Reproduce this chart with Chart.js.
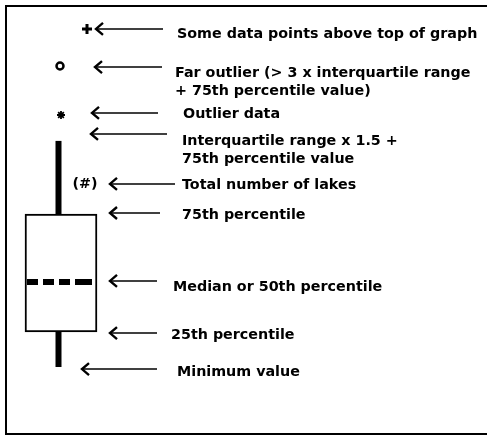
<!DOCTYPE html>
<html>
<head>
<meta charset="utf-8">
<script src="https://cdn.jsdelivr.net/npm/chart.js@4.4.0/dist/chart.umd.min.js"></script>
<style>
  body { margin: 0; background: #fff; overflow: hidden; }
  #frame { position: absolute; left: 5px; top: 5px; width: 520px; height: 426px;
           border: 2px solid #000; border-right: none; }
  #box { position: absolute; left: 0; top: 0; width: 487px; height: 437px; }
</style>
</head>
<body>
<div id="frame"></div>
<div id="box"><canvas id="plot" width="487" height="437"></canvas></div>
<script>
// box plot statistics (value axis)
var minValue = 10;
var q1Value = 20;
var medianValue = 34.3;
var q3Value = 53.7;
var whiskerTop = 74.6;

// single points above the whisker
var outlierValue = 82;
var farOutlierValue = 96;
var aboveTopValue = 106.6;
var countValue = 62.3;

// explanation labels, where their arrows point and where the text sits
var labels = [
    ['Some data points above top of graph'],
    ['Far outlier (> 3 x interquartile range', '+ 75th percentile value)'],
    ['Outlier data'],
    ['Interquartile range x 1.5 +', '75th percentile value'],
    ['Total number of lakes'],
    ['75th percentile'],
    ['Median or 50th percentile'],
    ['25th percentile'],
    ['Minimum value']
];
var arrowValues = [106.6, 95.7, 82.6, 76.6, 62.3, 54, 34.6, 19.7, 9.4];
var labelValues = [105.2, 94, 82.3, 74.6, 62, 53.4, 32.9, 19.1, 8.6];

// horizontal layout (x scale runs 0..487)
var boxX = 61, boxWidth = 72, whiskerX = 58.5;
var arrowTips = [96, 95, 92, 91, 110, 110, 110, 110, 82];
var arrowEnds = [163, 162, 158, 167, 175, 160, 157, 157, 157];
var textX = [177, 175, 183, 182, 182, 182, 173, 171, 177];

var FONT = 'bold 14.3px "DejaVu Sans", sans-serif';

var datasets = [];

datasets.push({
    type: 'bar',
    data: [{x: boxX, y: [q1Value, q3Value]}],
    backgroundColor: '#fff',
    borderColor: '#000',
    borderWidth: 2,
    borderSkipped: false,
    barThickness: boxWidth,
    order: 5
});

datasets.push({
    type: 'line',
    data: [{x: whiskerX, y: q3Value}, {x: whiskerX, y: whiskerTop}],
    borderColor: '#000', borderWidth: 6, borderCapStyle: 'butt',
    pointRadius: 0, order: 4
});
datasets.push({
    type: 'line',
    data: [{x: whiskerX, y: minValue}, {x: whiskerX, y: q1Value}],
    borderColor: '#000', borderWidth: 6, borderCapStyle: 'butt',
    pointRadius: 0, order: 4
});
datasets.push({
    type: 'line',
    data: [{x: boxX - 34, y: medianValue}, {x: boxX + 31, y: medianValue}],
    borderColor: '#000', borderWidth: 6, borderCapStyle: 'butt',
    borderDash: [11, 5, 11, 5, 11, 5, 17, 5], pointRadius: 0, order: 1
});

// markers
datasets.push({
    type: 'scatter',
    data: [{x: 87, y: aboveTopValue}],
    pointStyle: 'cross', pointRadius: 5, borderWidth: 3,
    borderColor: '#000', order: 1
});
datasets.push({
    type: 'scatter',
    data: [{x: 60, y: farOutlierValue}],
    pointStyle: 'circle', pointRadius: 3.5, borderWidth: 2.5,
    borderColor: '#000', backgroundColor: '#fff', order: 1
});
datasets.push({
    type: 'scatter',
    data: [{x: 61, y: outlierValue}],
    pointStyle: 'star', pointRadius: 4, borderWidth: 1.8,
    borderColor: '#000', order: 1
});

// arrows
labels.forEach(function(l, i) {
    datasets.push({
        type: 'line',
        arrow: true,
        data: [{x: arrowTips[i], y: arrowValues[i]}, {x: arrowEnds[i], y: arrowValues[i]}],
        borderColor: '#000', borderWidth: 1.5, pointRadius: 0, order: 1
    });
});

var annotate = {
    id: 'annotate',
    afterDatasetsDraw: function(chart) {
        var ctx = chart.ctx;
        var xs = chart.scales.x, ys = chart.scales.y;
        ctx.save();
        // arrow heads
        chart.data.datasets.forEach(function(ds, i) {
            if (!ds.arrow) return;
            var p = chart.getDatasetMeta(i).data[0];
            ctx.strokeStyle = '#000';
            ctx.lineWidth = 2.4;
            ctx.beginPath();
            ctx.moveTo(p.x + 7, p.y - 6);
            ctx.lineTo(p.x, p.y);
            ctx.lineTo(p.x + 7, p.y + 6);
            ctx.stroke();
        });
        // text
        ctx.fillStyle = '#000';
        ctx.font = FONT;
        ctx.textAlign = 'left';
        ctx.textBaseline = 'middle';
        labels.forEach(function(lines, i) {
            var x = xs.getPixelForValue(textX[i]);
            var y = ys.getPixelForValue(labelValues[i]);
            lines.forEach(function(t, j) {
                ctx.fillText(t, x, y + j * 18);
            });
        });
        ctx.textAlign = 'center';
        ctx.fillText('(#)', xs.getPixelForValue(85), ys.getPixelForValue(countValue));
        ctx.restore();
    }
};

new Chart(document.getElementById('plot'), {
    type: 'scatter',
    data: { datasets: datasets },
    options: {
        responsive: false,
        animation: false,
        devicePixelRatio: 1,
        layout: { padding: 0, autoPadding: false },
        plugins: { legend: { display: false }, tooltip: { enabled: false } },
        scales: {
            x: { type: 'linear', min: 0, max: 487, offset: false, display: false },
            y: { type: 'linear', min: -10, max: 402 / 3.5, display: false }
        }
    },
    plugins: [annotate]
});
</script>
</body>
</html>
